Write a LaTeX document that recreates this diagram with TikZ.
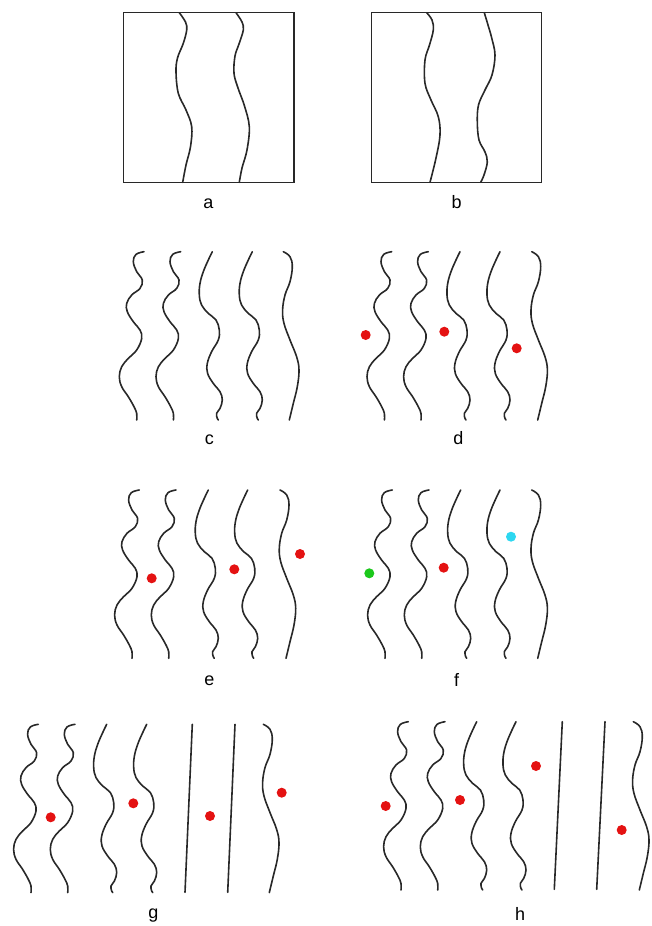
\documentclass[tikz,border=0pt]{standalone}
\usepackage{fontspec}
\setmainfont{Liberation Sans}
\definecolor{inkgray}{RGB}{40,40,40}
\definecolor{dotred}{RGB}{228,18,18}
\definecolor{dotgreen}{RGB}{28,200,28}
\definecolor{dotcyan}{RGB}{45,215,240}
\tikzset{
  strand/.style={draw=inkgray, line width=1.6pt, line cap=round},
  frame/.style={draw=inkgray, line width=1.4pt},
  lbl/.style={font=\fontsize{18}{20}\selectfont, anchor=base, inner sep=0pt},
  dot/.style={circle, inner sep=0pt, minimum size=10pt},
  % tight double wiggle
  wigA/.pic={\draw[strand] plot[smooth, tension=0.65] coordinates {
    (0,0) (-8,2.7) (-10.7,10) (-7.3,20) (-1.7,28.3) (-4,36.7) (-12.3,43.3)
    (-17.3,51.7) (-16.7,60) (-10.7,70) (-4,78.3) (-2.3,86.7) (-7.3,98.3)
    (-15.7,106.7) (-22.3,115) (-24.7,125) (-22.3,135) (-15.7,145) (-10,155)
    (-7.3,161.7) (-7.3,168.3)};},
  % looser wiggle with a small hook at the foot
  wigB/.pic={\draw[strand] plot[smooth, tension=0.65] coordinates {
    (0,0) (-4,8.3) (-9,20) (-12.3,31.7) (-13,43.3) (-10.7,53.3) (-4,61.7)
    (3.7,68.3) (7,78.3) (6,88.3) (-0.7,100) (-5,111.7) (-4.7,121.7) (1,131.7)
    (7.7,140) (10,148.3) (7.7,156.7) (4.3,161.7) (5,166.7) (6,168.3)};},
  % gentle bow
  wigC/.pic={\draw[strand] plot[smooth, tension=0.65] coordinates {
    (0,0) (6.7,5) (9,15) (6.7,30) (1.7,43.3) (-0.7,58.3) (0.7,71.7)
    (6.7,88.3) (13.3,105) (15.7,118.3) (14,135) (10,151.7) (6,168.3)};}
}
\begin{document}
\begin{tikzpicture}[x=1pt, y=-1pt]
\useasboundingbox (0,0) rectangle (651,926);

% ---- a ----
\draw[frame] (123.3,12.3) rectangle (294,182.3);
\draw[strand] plot[smooth, tension=0.6] coordinates {
  (179.3,12.7) (185.5,22) (186.7,30) (183.3,43.3) (177.5,58) (176,72) (178.3,93.3)
  (186,110) (191.7,126.7) (190.5,146.7) (186,165) (182.7,182.3)};
\draw[strand] plot[smooth, tension=0.6] coordinates {
  (236,12.7) (242,22) (243.3,30) (239,44) (235,56) (234,73.3) (238,88)
  (244.5,106) (249.3,126.7) (247,150) (242,168) (239.3,182.3)};
\node[lbl] (la) at (208.5,208) {a};

% ---- b ----
\draw[frame] (371.7,12.3) rectangle (541.7,182.3);
\draw[strand] plot[smooth, tension=0.6] coordinates {
  (426.7,12.7) (432,20) (433.3,30) (429.5,45) (425,60) (425,83.3) (431,100)
  (438.3,116.7) (440,135) (436,158) (430,182.3)};
\draw[strand] plot[smooth, tension=0.6] coordinates {
  (484.3,12.7) (488,25) (491.7,38) (495,55) (492,75) (485,90) (478.5,105)
  (477.3,122) (479,140) (485,152) (487.3,162) (484,175) (480.7,182.3)};
\node[lbl] (lb) at (456.7,208) {b};

% ---- c ----
\pic at (144,251.7) {wigA};
\pic at (180.7,251.7) {wigA};
\pic at (212.3,251.7) {wigB};
\pic at (252.3,251.7) {wigB};
\pic at (283.3,251.7) {wigC};
\node[lbl] (lc) at (209.3,444) {c};

% ---- d ----
\pic at (391.7,251.7) {wigA};
\pic at (428.3,251.7) {wigA};
\pic at (460,251.7) {wigB};
\pic at (500,251.7) {wigB};
\pic at (531.7,251.7) {wigC};
\node[dot, fill=dotred] (d1) at (365.7,335) {};
\node[dot, fill=dotred] (d2) at (444.3,331.7) {};
\node[dot, fill=dotred] (d3) at (516.7,348.3) {};
\node[lbl] (ld) at (458.3,444) {d};

% ---- e ----
\pic at (139.3,490) {wigA};
\pic at (176,490) {wigA};
\pic at (208.3,490) {wigB};
\pic at (247.7,490) {wigB};
\pic at (280,490) {wigC};
\node[dot, fill=dotred] (e1) at (151.7,578.3) {};
\node[dot, fill=dotred] (e2) at (234.3,569.3) {};
\node[dot, fill=dotred] (e3) at (300,554) {};
\node[lbl] (le) at (209.3,685) {e};

% ---- f ----
\pic at (392.3,490) {wigA};
\pic at (429,490) {wigA};
\pic at (460.7,490) {wigB};
\pic at (500,490) {wigB};
\pic at (531.7,490) {wigC};
\node[dot, fill=dotgreen] (f1) at (369.3,573.3) {};
\node[dot, fill=dotred] (f2) at (443.7,567.7) {};
\node[dot, fill=dotcyan] (f3) at (511,536.7) {};
\node[lbl] (lf) at (456.7,686) {f};

% ---- g ----
\pic at (38.3,724.3) {wigA};
\pic at (75,724.3) {wigA};
\pic at (106.7,724.3) {wigB};
\pic at (146.7,724.3) {wigB};
\draw[strand] (192.3,724.3) -- (185,892.3);
\draw[strand] (235,724.3) -- (227.7,892.3);
\pic at (263.3,724.3) {wigC};
\node[dot, fill=dotred] (g1) at (50.7,817.3) {};
\node[dot, fill=dotred] (g2) at (133.3,803.3) {};
\node[dot, fill=dotred] (g3) at (210,816) {};
\node[dot, fill=dotred] (g4) at (281.7,792.7) {};
\node[lbl] (lg) at (153.3,918) {g};

% ---- h ----
\pic at (408.3,721.7) {wigA};
\pic at (445,721.7) {wigA};
\pic at (476.7,721.7) {wigB};
\pic at (516,721.7) {wigB};
\draw[strand] (562.3,721.7) -- (554.3,889.3);
\draw[strand] (605,721.7) -- (596.7,889.3);
\pic at (633.3,721.7) {wigC};
\node[dot, fill=dotred] (h1) at (385.7,806) {};
\node[dot, fill=dotred] (h2) at (460,800) {};
\node[dot, fill=dotred] (h3) at (536,766) {};
\node[dot, fill=dotred] (h4) at (621.7,830) {};
\node[lbl] (lh) at (520,920) {h};
\end{tikzpicture}
\end{document}
